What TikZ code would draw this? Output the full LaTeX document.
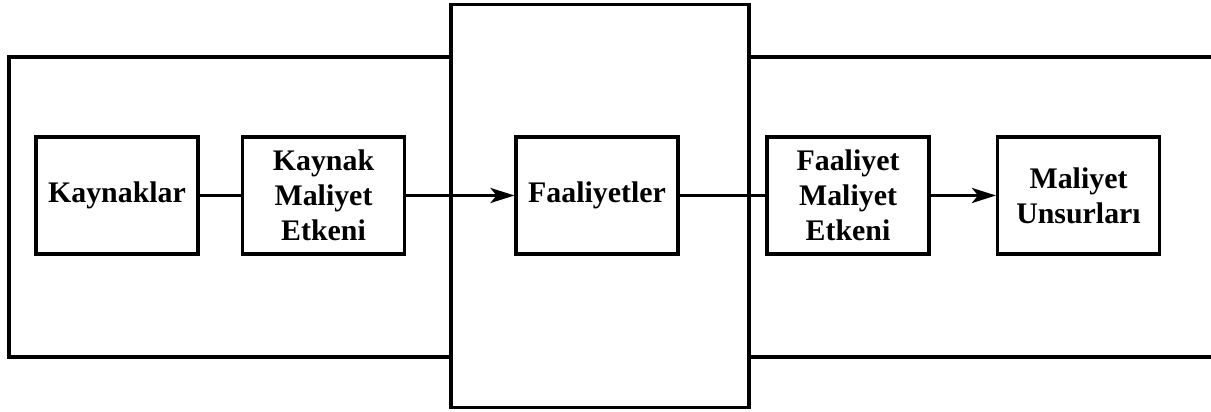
\documentclass[tikz,border=0pt]{standalone}
\usepackage{fontspec}
\setmainfont{Liberation Serif}
\usetikzlibrary{arrows.meta}

\begin{document}
\begin{tikzpicture}[
          line width=1.75pt,
          every node/.style={font=\bfseries\fontsize{17}{20}\selectfont},
          abcbox/.style={rectangle,draw=black,fill=white,
              minimum width=3.24cm,minimum height=2.34cm,align=center,inner sep=2pt},
          flow/.style={-{Stealth[length=0.48cm,width=0.3cm,inset=0.12cm]}}]
        \useasboundingbox (0,0) rectangle (24.22,8.24);

        % open frame running out on the right
        \coordinate (frameTR) at (24.4,7.10);
        \coordinate (frameBR) at (24.4,1.10);
        \draw (frameTR) -- (0.18,7.10) -- (0.18,1.10) -- (frameBR);
        % activity band over the frame
        \node[rectangle,draw=black,fill=white,minimum width=5.96cm,
              minimum height=8.06cm,inner sep=0pt] (band) at (12.0,4.12) {};

        \node[abcbox] (res) at (2.34,4.33) {Kaynaklar};
        \node[abcbox] (resdrv) at (6.47,4.33) {Kaynak\\Maliyet\\Etkeni};
        \node[abcbox] (act) at (11.94,4.33) {Faaliyetler};
        \node[abcbox] (actdrv) at (16.96,4.33) {Faaliyet\\Maliyet\\Etkeni};
        \node[abcbox] (cost) at (21.57,4.33) {Maliyet\\Unsurları};

        \draw (res) -- (resdrv);
        \draw[flow] (resdrv) -- (act);
        \draw (act) -- (actdrv);
        \draw[flow] (actdrv) -- (cost);
      \end{tikzpicture}
\end{document}
